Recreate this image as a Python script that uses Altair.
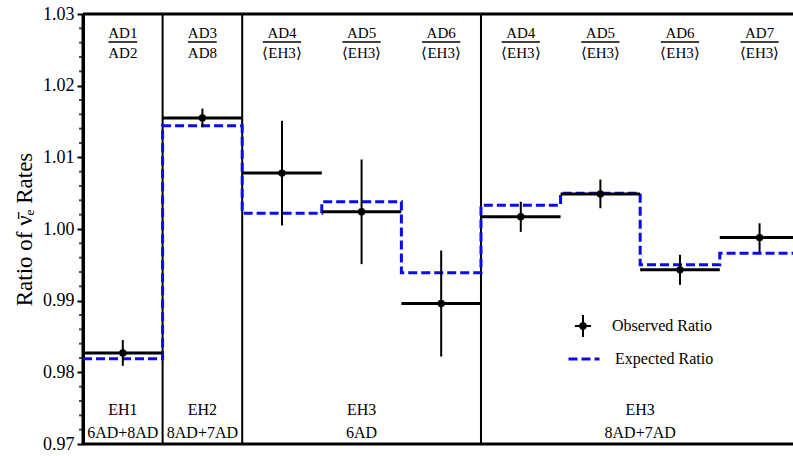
import altair as alt
import pandas as pd

# Detector-pair ratios, one bin per ratio
numerators = ["AD1", "AD3", "AD4", "AD5", "AD6", "AD4", "AD5", "AD6", "AD7"]
denominators = ["AD2", "AD8", "⟨EH3⟩", "⟨EH3⟩", "⟨EH3⟩", "⟨EH3⟩", "⟨EH3⟩", "⟨EH3⟩", "⟨EH3⟩"]
observed = [0.9827, 1.0155, 1.0078, 1.0024, 0.9896, 1.0017, 1.0049, 0.9943, 0.9988]
obs_error = [0.0018, 0.0013, 0.0073, 0.0073, 0.0074, 0.0021, 0.0020, 0.0021, 0.0020]
expected = [0.9819, 1.0144, 1.0022, 1.0038, 0.9939, 1.0033, 1.0050, 0.9950, 0.9966]

# Experimental-hall groupings
hall_names = ["EH1", "EH2", "EH3", "EH3"]
hall_configs = ["6AD+8AD", "8AD+7AD", "6AD", "8AD+7AD"]
hall_start = [0, 1, 2, 5]
hall_end = [1, 2, 5, 9]
group_edges = [1, 2, 5]

major_ticks = [0.97, 0.98, 0.99, 1.00, 1.01, 1.02, 1.03]
minor_step = 0.002

SERIF = "Liberation Serif"
BLUE = "#0a0aef"

n = len(observed)
bins = pd.DataFrame({
    "x0": list(range(n)),
    "x1": [i + 1 for i in range(n)],
    "xc": [i + 0.5 for i in range(n)],
    "obs": observed,
    "lo": [o - e for o, e in zip(observed, obs_error)],
    "hi": [o + e for o, e in zip(observed, obs_error)],
    "num": numerators,
    "den": denominators,
    "obs_label": ["Observed Ratio"] * n,
})

step = pd.DataFrame({
    "x": list(range(n + 1)),
    "exp": expected + [expected[-1]],
    "exp_label": ["Expected Ratio"] * (n + 1),
})

halls = pd.DataFrame({
    "name": hall_names,
    "config": hall_configs,
    "xc": [(a + b) / 2 for a, b in zip(hall_start, hall_end)],
})

edges = pd.DataFrame({"x": group_edges})

n_steps = int(round((major_ticks[-1] - major_ticks[0]) / minor_step))
minor_vals = [round(major_ticks[0] + k * minor_step, 3) for k in range(n_steps + 1) if k % 5]
minor_ticks = pd.DataFrame({"v": minor_vals, "edge": [0] * len(minor_vals)})

x_scale = alt.Scale(domain=[0, 8.92], nice=False, zero=False)
y_scale = alt.Scale(domain=[major_ticks[0], major_ticks[-1]], nice=False, zero=False)

y_axis = alt.Axis(
    values=major_ticks,
    format=".2f",
    title="Ratio of ν̄ₑ Rates",
)


def Y(field):
    return alt.Y(field, scale=y_scale, axis=y_axis)


def X(field):
    return alt.X(field, scale=x_scale, axis=None)


base = alt.Chart(bins)

# frame: top, bottom and left borders
top_border = alt.Chart(pd.DataFrame({"v": [major_ticks[-1]]})).mark_rule(
    color="black", strokeWidth=3
).encode(y=Y("v:Q"))
bottom_border = alt.Chart(pd.DataFrame({"v": [major_ticks[0]]})).mark_rule(
    color="black", strokeWidth=3
).encode(y=Y("v:Q"))
left_border = alt.Chart(pd.DataFrame({"edge": [0]})).mark_rule(
    color="black", strokeWidth=3
).encode(x=X("edge:Q"))

# small minor ticks hugging the left axis line
minor = alt.Chart(minor_ticks).mark_tick(
    orient="horizontal", color="black", size=4, thickness=2, xOffset=-2
).encode(x=X("edge:Q"), y=Y("v:Q"))

separators = alt.Chart(edges).mark_rule(color="black", strokeWidth=2).encode(x=X("x:Q"))

expected_line = alt.Chart(step).mark_line(
    interpolate="step-after", color=BLUE, strokeWidth=3, clip=True
).encode(
    x=X("x:Q"),
    y=Y("exp:Q"),
    strokeDash=alt.StrokeDash(
        "exp_label:N",
        scale=alt.Scale(domain=["Expected Ratio"], range=[[9, 4]]),
        legend=alt.Legend(
            title=None, orient="none", legendX=484, legendY=328,
            symbolType="stroke", symbolSize=961, symbolStrokeColor=BLUE,
            symbolStrokeWidth=3, symbolDash=[9, 4], padding=0,
            labelFont=SERIF, labelFontSize=16, labelColor="black", labelOffset=14,
        ),
    ),
)

obs_segments = base.mark_rule(color="black", strokeWidth=3, clip=True).encode(
    x=X("x0:Q"), x2="x1:Q", y=Y("obs:Q"),
)

err_bars = base.mark_rule(color="black", strokeWidth=2).encode(
    x=X("xc:Q"), y=Y("lo:Q"), y2="hi:Q",
)

marker_path = (
    "M-0.09,-1L0.09,-1L0.09,1L-0.09,1Z"
    "M-0.73,-0.09L0.73,-0.09L0.73,0.09L-0.73,0.09Z"
    "M0.36,0A0.36,0.36 0 1,1 -0.36,0A0.36,0.36 0 1,1 0.36,0Z"
)

obs_points = base.mark_point(filled=True, size=55, opacity=1).encode(
    x=X("xc:Q"),
    y=Y("obs:Q"),
    color=alt.Color(
        "obs_label:N",
        scale=alt.Scale(domain=["Observed Ratio"], range=["black"]),
        legend=alt.Legend(
            title=None, orient="none", legendX=489, legendY=301,
            symbolType=marker_path, symbolSize=484, symbolFillColor="black",
            symbolStrokeWidth=0, symbolOpacity=1, padding=0,
            labelFont=SERIF, labelFontSize=16, labelColor="black", labelOffset=18,
        ),
    ),
)

text_style = dict(font=SERIF, color="black", baseline="alphabetic")

num_text = base.mark_text(fontSize=15, **text_style).encode(
    x=X("xc:Q"), y=alt.value(24), text="num:N"
)
den_text = base.mark_text(fontSize=15, **text_style).encode(
    x=X("xc:Q"), y=alt.value(44), text="den:N"
)
frac_bars = base.transform_calculate(
    hw="indexof(datum.den, '⟨') >= 0 ? 0.24 : 0.18"
).transform_calculate(
    b0="datum.xc - datum.hw", b1="datum.xc + datum.hw"
).mark_rule(color="black", strokeWidth=1.5).encode(
    x=X("b0:Q"), x2="b1:Q", y=alt.value(28)
)

hall_name_text = alt.Chart(halls).mark_text(fontSize=16, **text_style).encode(
    x=X("xc:Q"), y=alt.value(401), text="name:N"
)
hall_conf_text = alt.Chart(halls).mark_text(fontSize=16, **text_style).encode(
    x=X("xc:Q"), y=alt.value(424), text="config:N"
)

chart = alt.layer(
    top_border, bottom_border, left_border, minor, separators, expected_line,
    obs_segments, err_bars, obs_points, num_text, den_text, frac_bars,
    hall_name_text, hall_conf_text,
).resolve_legend(
    color="independent", strokeDash="independent"
).properties(
    width=710, height=430,
    autosize=alt.AutoSizeParams(type="none"),
    padding={"left": 83, "top": 14, "right": 0, "bottom": 12},
    background="white",
).configure(
    font=SERIF
).configure_view(
    stroke=None
).configure_axis(
    labelFont=SERIF,
    titleFont=SERIF,
).configure_axisY(
    zindex=1,
    domain=True,
    domainColor="black",
    domainWidth=3,
    ticks=True,
    tickSize=6,
    tickWidth=2,
    tickColor="black",
    grid=False,
    labelOverlap=False,
    labelFont=SERIF,
    labelFontSize=18,
    labelColor="black",
    labelPadding=3,
    titleFont=SERIF,
    titleFontSize=23,
    titleFontWeight="normal",
    titleColor="black",
    titlePadding=6,
)

chart.save("out.html", embed_options={"renderer": "svg", "actions": False})
